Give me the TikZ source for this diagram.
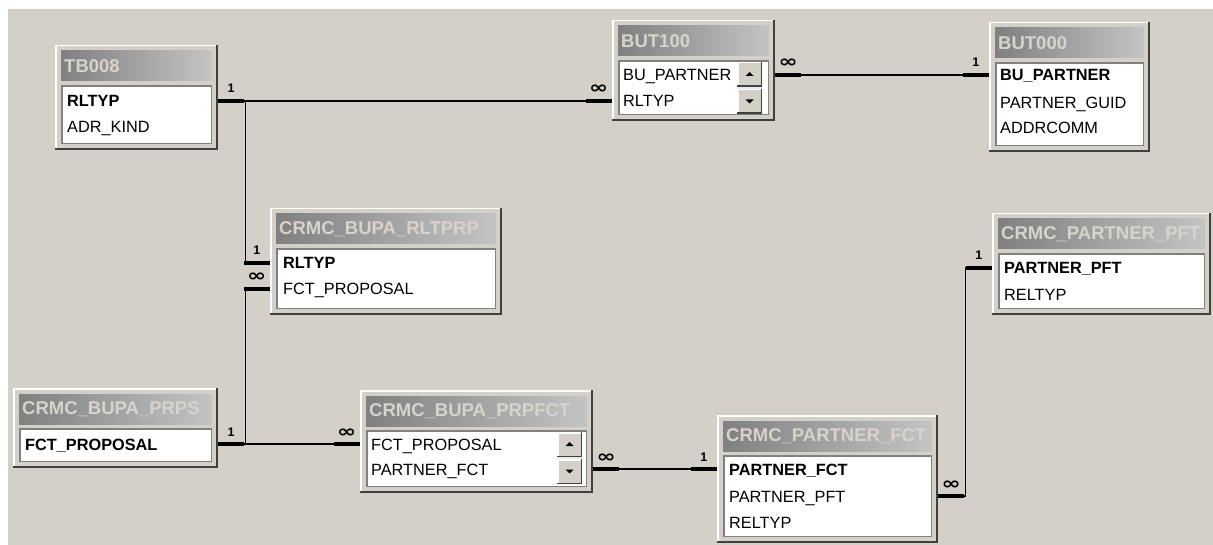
\documentclass[tikz,border=0pt]{standalone}
\usepackage{fontspec}
\setmainfont{Liberation Sans}
\newfontfamily\symfont{DejaVu Sans}
\usepackage{tikz}
\usetikzlibrary{calc, fit}
\definecolor{winface}{RGB}{212,208,200}
\definecolor{titledark}{RGB}{128,128,128}
\definecolor{titlelight}{RGB}{196,196,196}
\definecolor{titletext}{RGB}{216,212,204}
\definecolor{frameshadow}{RGB}{64,64,64}
\definecolor{listshadow}{RGB}{128,128,128}

% table window: name, top-left x/y, bottom-right x/y, title
\newcommand{\dbtable}[6]{%
  \fill[frameshadow] (#2,#3) rectangle (#4,#5);
  \fill[white] (#2,#3) rectangle (#4-2,#5-2);
  \fill[winface] (#2+1.5,#3+1.5) rectangle (#4-2,#5-2);
  \shade[left color=titledark, right color=titlelight] (#2+6,#3+6) rectangle (#4-6,#3+36);
  \node[tabtitle] (#1-title) at (#2+9,#3+21) {#6};
  \fill[listshadow] (#2+6,#3+40) rectangle (#4-6,#5-6);
  \fill[white] (#2+8,#3+42) rectangle (#4-7,#5-7);
  \node[fit={(#2,#3) (#4,#5)}, inner sep=0pt] (#1) {};
}
% scroll buttons of a list: x0, y0, x1, y1
\newcommand{\listscroll}[4]{%
  \fill[winface!45!white] (#1,#2) rectangle (#3,#4);
  \fill[frameshadow] (#1,#2) rectangle (#3,#2+25);
  \fill[white] (#1,#2) rectangle (#3-1.5,#2+23.5);
  \fill[winface] (#1+1.5,#2+1.5) rectangle (#3-1.5,#2+23.5);
  \fill ({(#1+#3)/2-4},#2+14) -- ++(8,0) -- ++(-4,-4) -- cycle;
  \fill[frameshadow] (#1,#4-25) rectangle (#3,#4);
  \fill[white] (#1,#4-25) rectangle (#3-1.5,#4-1.5);
  \fill[winface] (#1+1.5,#4-23.5) rectangle (#3-1.5,#4-1.5);
  \fill ({(#1+#3)/2-4},#4-14.5) -- ++(8,0) -- ++(-4,4) -- cycle;
}
\newcommand{\manysym}{\scalebox{1.35}[1]{\symfont\bfseries ∞}}

\begin{document}
\begin{tikzpicture}[x=1pt, y=-1pt,
    field/.style={anchor=west, inner sep=0pt, text height=12pt, text depth=0pt,
                  font=\fontsize{16.3}{18}\selectfont},
    key/.style={field, font=\fontsize{16.3}{18}\selectfont\bfseries},
    tabtitle/.style={anchor=west, inner sep=0pt, text=titletext,
                     font=\fontsize{18.5}{20}\selectfont\bfseries},
    link/.style={line width=1.3pt},
    stub/.style={line width=4pt},
    one/.style={above=6pt, inner sep=0pt, font=\fontsize{12.5}{13}\selectfont\bfseries},
    many/.style={above=5pt, inner sep=0pt, font=\fontsize{17}{18}\selectfont}
]
\useasboundingbox (0,0) rectangle (1213,545);
\fill[white] (0,0) rectangle (1213,545);
\fill[winface] (8,9) rectangle (1213,545);

% tables
\dbtable{tb008}{55}{45}{218}{150}{TB008}
\dbtable{but100}{612}{20}{775}{121}{BUT100}
\dbtable{but000}{989}{22}{1150}{152}{BUT000}
\dbtable{rltprp}{270}{208}{502}{315}{CRMC\_BUPA\_RLTPRP}
\dbtable{pft}{992}{213}{1211}{315}{CRMC\_PARTNER\_PFT}
\dbtable{prps}{13}{388}{218}{468}{CRMC\_BUPA\_PRPS}
\dbtable{prpfct}{360}{390}{593}{493}{CRMC\_BUPA\_PRPFCT}
\dbtable{pfct}{717}{415}{938}{543}{CRMC\_PARTNER\_FCT}
\listscroll{737}{62}{762}{114}
\listscroll{557}{432}{582}{484}

% fields
\foreach \t/\s/\y [count=\k] in {RLTYP/key/101, ADR\_KIND/field/127}
  \node[\s] (tb008-\k) at (67,\y) {\t};
\foreach \t/\s/\y [count=\k] in {BU\_PARTNER/field/75, RLTYP/field/101}
  \node[\s] (but100-\k) at (623,\y) {\t};
\foreach \t/\s/\y [count=\k] in {BU\_PARTNER/key/75, PARTNER\_GUID/field/103, ADDRCOMM/field/128}
  \node[\s] (but000-\k) at (1000,\y) {\t};
\foreach \t/\s/\y [count=\k] in {RLTYP/key/263, FCT\_PROPOSAL/field/289}
  \node[\s] (rltprp-\k) at (283,\y) {\t};
\foreach \t/\s/\y [count=\k] in {PARTNER\_PFT/key/268, RELTYP/field/295}
  \node[\s] (pft-\k) at (1004,\y) {\t};
\foreach \t/\s/\y [count=\k] in {FCT\_PROPOSAL/key/444}
  \node[\s] (prps-\k) at (25,\y) {\t};
\foreach \t/\s/\y [count=\k] in {FCT\_PROPOSAL/field/444, PARTNER\_FCT/field/469}
  \node[\s] (prpfct-\k) at (371,\y) {\t};
\foreach \t/\s/\y [count=\k] in {PARTNER\_FCT/key/469, PARTNER\_PFT/field/496, RELTYP/field/522}
  \node[\s] (pfct-\k) at (729,\y) {\t};

% relationships
\draw[link] (tb008.east |- tb008-1) -- (but100.west |- but100-2);
\draw[link] (but100.east |- but100-1) -- (but000.west |- but000-1);
\draw[link] (tb008.east |- tb008-1) -- ++(27,0) |- (rltprp.west |- rltprp-1);
\draw[link] (prps.east |- prps-1) -- ++(27,0) |- (rltprp.west |- rltprp-2);
\draw[link] (prps.east |- prps-1) -- (prpfct.west |- prpfct-1);
\draw[link] (prpfct.east |- prpfct-2) -- (pfct.west |- pfct-1);
\draw[link] (pfct.east |- pfct-2) -- ++(27,0) |- (pft.west |- pft-1);

\foreach \t/\e/\r/\d/\s/\l [count=\k] in {
    tb008/east/tb008-1/26/one/1, but100/west/but100-2/-26/many/\manysym,
    but100/east/but100-1/26/many/\manysym, but000/west/but000-1/-26/one/1,
    rltprp/west/rltprp-1/-26/one/1, rltprp/west/rltprp-2/-26/many/\manysym,
    prps/east/prps-1/26/one/1, prpfct/west/prpfct-1/-26/many/\manysym,
    prpfct/east/prpfct-2/26/many/\manysym, pfct/west/pfct-1/-26/one/1,
    pfct/east/pfct-2/26/many/\manysym, pft/west/pft-1/-26/one/1}
  \draw[stub] (\t.\e |- \r) -- ++(\d,0) node[midway, \s] (card\k) {\l};
\end{tikzpicture}
\end{document}
